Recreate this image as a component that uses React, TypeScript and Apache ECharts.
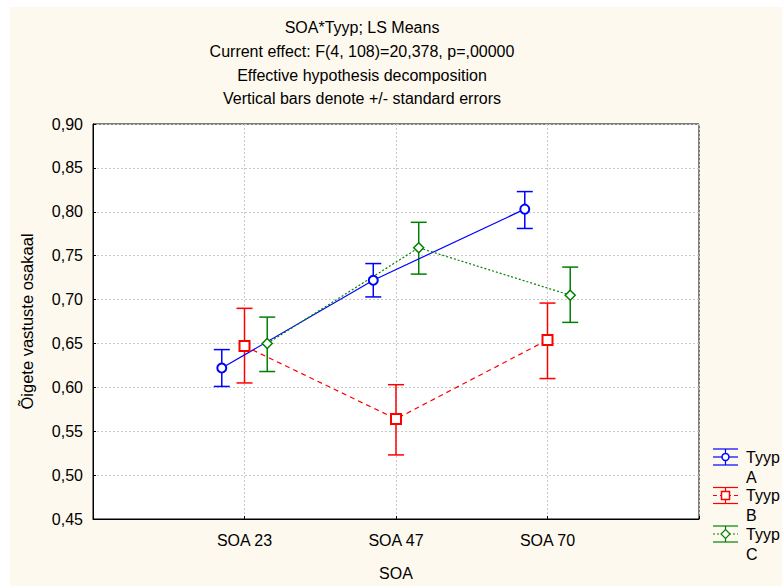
import React, { useEffect, useRef } from "react";
import * as echarts from "echarts";

const categories = ["SOA 23", "SOA 47", "SOA 70"];
const seriesNames = ["Tyyp A", "Tyyp B", "Tyyp C"];
const meanA = [0.622, 0.722, 0.803];
const lowA = [0.601, 0.703, 0.781];
const highA = [0.643, 0.741, 0.823];
const meanB = [0.647, 0.564, 0.654];
const lowB = [0.605, 0.523, 0.610];
const highB = [0.690, 0.603, 0.696];
const meanC = [0.650, 0.759, 0.705];
const lowC = [0.618, 0.729, 0.674];
const highC = [0.680, 0.788, 0.737];
const yTicks = [0.45, 0.5, 0.55, 0.6, 0.65, 0.7, 0.75, 0.8, 0.85, 0.9];

const titleLines = [
  "SOA*Tyyp; LS Means",
  "Current effect: F(4, 108)=20,378, p=,00000",
  "Effective hypothesis decomposition",
  "Vertical bars denote +/- standard errors",
];

const FONT = "'Liberation Sans', Arial, sans-serif";
const colors = ["#0000ff", "#ff0000", "#008000"];
const offsets = [-0.15, 0, 0.15];
const symbols = ["circle", "rect", "diamond"];
const symbolSizes = [9, 10, 10];
const lineTypes: any[] = ["solid", [5, 4], [2, 2]];

export default function App() {
  const ref = useRef<HTMLDivElement>(null);
  useEffect(() => {
    const chart = echarts.init(ref.current!, null, { renderer: "svg" });
    const means = [meanA, meanB, meanC];
    const lows = [lowA, lowB, lowC];
    const highs = [highA, highB, highC];

    const series: any[] = [];
    means.forEach((m, si) => {
      const color = colors[si];
      series.push({
        type: "custom",
        name: seriesNames[si] + " err",
        data: m.map((_, i) => [i + 1 + offsets[si], lows[si][i], highs[si][i]]),
        renderItem: (params: any, api: any) => {
          const x = api.value(0);
          const lo = api.coord([x, api.value(1)]);
          const hi = api.coord([x, api.value(2)]);
          const hw = 8;
          const st = { stroke: color, lineWidth: 1.5 };
          return {
            type: "group",
            children: [
              { type: "line", shape: { x1: lo[0], y1: lo[1], x2: hi[0], y2: hi[1] }, style: st },
              { type: "line", shape: { x1: hi[0] - hw, y1: hi[1], x2: hi[0] + hw, y2: hi[1] }, style: st },
              { type: "line", shape: { x1: lo[0] - hw, y1: lo[1], x2: lo[0] + hw, y2: lo[1] }, style: st },
            ],
          };
        },
        z: 2,
        silent: true,
      });
      series.push({
        type: "line",
        name: seriesNames[si],
        data: m.map((v, i) => [i + 1 + offsets[si], v]),
        symbol: symbols[si],
        symbolSize: symbolSizes[si],
        showAllSymbol: true,
        lineStyle: { color, width: 1.2, type: lineTypes[si] },
        itemStyle: { color: "#ffffff", borderColor: color, borderWidth: si === 2 ? 1.5 : 2 },
        z: 3,
      });
    });

    // legend drawn with graphic elements
    const legendEls: any[] = [];
    seriesNames.forEach((name, si) => {
      const cy = 457 + si * 38.5;
      const cx = 725.5;
      const color = colors[si];
      const st = { stroke: color, lineWidth: 1.2 };
      legendEls.push(
        { type: "line", shape: { x1: 713, y1: cy - 8, x2: 738, y2: cy - 8 }, style: st },
        { type: "line", shape: { x1: 713, y1: cy + 8, x2: 738, y2: cy + 8 }, style: st },
        { type: "line", shape: { x1: 713, y1: cy, x2: 738, y2: cy }, style: { ...st, lineDash: si === 0 ? null : si === 1 ? [4, 3] : [2, 2] } },
        { type: "line", shape: { x1: cx, y1: cy - 8, x2: cx, y2: cy + 8 }, style: st },
      );
      if (si === 0) {
        legendEls.push({ type: "circle", shape: { cx, cy, r: 3.5 }, style: { fill: "#fff", stroke: color, lineWidth: 1.5 } });
      } else if (si === 1) {
        legendEls.push({ type: "rect", shape: { x: cx - 4, y: cy - 4, width: 8, height: 8 }, style: { fill: "#fff", stroke: color, lineWidth: 1.5 } });
      } else {
        legendEls.push({ type: "polygon", shape: { points: [[cx, cy - 4.5], [cx + 4.5, cy], [cx, cy + 4.5], [cx - 4.5, cy]] }, style: { fill: "#fff", stroke: color, lineWidth: 1.2 } });
      }
      const parts = name.split(" ");
      legendEls.push({
        type: "text",
        x: 746,
        y: cy - 10,
        style: { text: parts[0] + "\n" + parts[1], font: `16px ${FONT}`, fill: "#000", textVerticalAlign: "top", lineHeight: 20 },
      });
    });

    chart.setOption({
      animation: false,
      backgroundColor: "transparent",
      textStyle: { fontFamily: FONT },
      graphic: [
        {
          type: "text",
          x: 362,
          y: 16,
          style: {
            text: titleLines.join("\n"),
            font: `16px ${FONT}`,
            fill: "#000",
            textAlign: "center",
            lineHeight: 23.7,
          },
        },
        ...legendEls,
      ],
      grid: {
        left: 93,
        top: 124,
        width: 606,
        height: 400,
        show: true,
        backgroundColor: "#ffffff",
        borderColor: "#000000",
        borderWidth: 1,
        containLabel: false,
      },
      xAxis: {
        type: "value",
        min: 0,
        max: 4,
        interval: 1,
        name: "SOA",
        nameLocation: "middle",
        nameGap: 46,
        nameTextStyle: { fontSize: 16, color: "#000", fontFamily: FONT },
        axisLine: { show: true, lineStyle: { color: "#000", width: 1 } },
        axisTick: { show: true, inside: true, length: 3, lineStyle: { color: "#000" } },
        axisLabel: {
          fontSize: 16,
          color: "#000",
          margin: 13,
          fontFamily: FONT,
          formatter: (v: number) => categories[v - 1] ?? "",
        },
        splitLine: { show: true, lineStyle: { color: "#c8c8c8", type: [2, 2], width: 1 } },
      },
      yAxis: {
        type: "value",
        min: 0.45,
        max: 0.9,
        interval: 0.05,
        name: "Õigete vastuste osakaal",
        nameLocation: "middle",
        nameGap: 58,
        nameTextStyle: { fontSize: 16.5, color: "#000", fontFamily: FONT },
        axisLine: { show: true, lineStyle: { color: "#000", width: 1 } },
        axisTick: { show: true, inside: true, length: 3, lineStyle: { color: "#000" } },
        axisLabel: {
          fontSize: 16,
          color: "#000",
          margin: 10,
          fontFamily: FONT,
          formatter: (v: number) => {
            const t = yTicks.find((k) => Math.abs(k - v) < 1e-6);
            return (t ?? v).toFixed(2).replace(".", ",");
          },
        },
        splitLine: { show: true, lineStyle: { color: "#c8c8c8", type: [2, 2], width: 1 } },
      },
      series,
    });
    return () => chart.dispose();
  }, []);

  return (
    <div style={{ position: "fixed", left: 0, top: 0, width: 782, height: 586, background: "#ffffff" }}>
      <div style={{ position: "absolute", left: 10, top: 7, right: 0, bottom: 0, background: "#fef9ee" }} />
      <div ref={ref} style={{ position: "absolute", left: 0, top: 0, width: 782, height: 586 }} />
    </div>
  );
}
